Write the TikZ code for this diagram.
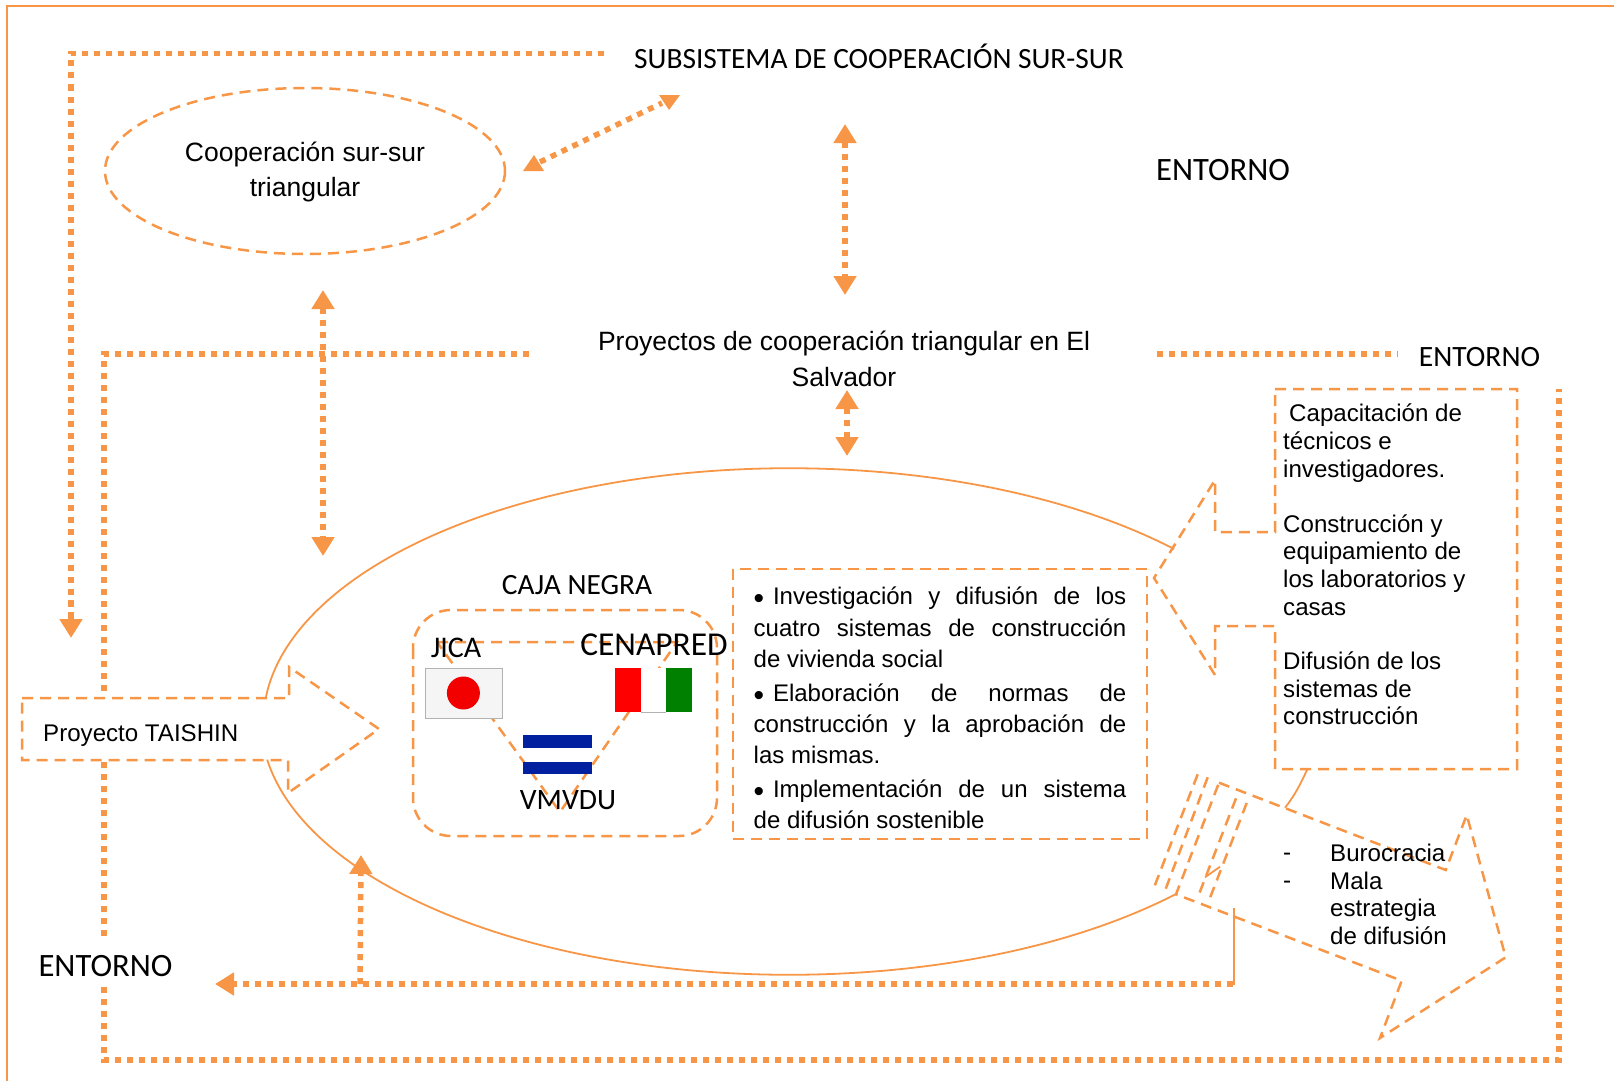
\documentclass[tikz,border=0pt]{standalone}
\usepackage{fontspec}
\setmainfont{Liberation Sans}
\newfontfamily\calibri{Carlito}
\usetikzlibrary{arrows.meta}
\definecolor{naranja}{HTML}{F79646}
\definecolor{azul}{HTML}{00209F}
\newcommand{\vineta}{\smash{\raisebox{-4pt}{\fontsize{30}{30}\selectfont •}}\hspace{8.8pt}}
\tikzset{
	fina/.style={draw=naranja, line width=1.8pt},
	guiones/.style={draw=naranja, line width=2.5pt, dash pattern=on 11pt off 7pt},
	puntos/.style={draw=naranja, line width=5.5pt, dash pattern=on 6pt off 6pt},
	punta/.style={fill=naranja},
	doble/.style={puntos, {Triangle[length=19pt,width=22pt]}-{Triangle[length=19pt,width=22pt]}},
	simple/.style={puntos, -{Triangle[length=19pt,width=22pt]}},
	texto/.style={font=\fontsize{24.1}{27.6}\selectfont, align=left, inner sep=0pt},
	grande/.style={font=\fontsize{26.5}{35.5}\selectfont, align=center, inner sep=0pt},
	cali/.style={font=\calibri\fontsize{#1}{#1}\selectfont, inner sep=0pt}
}

\begin{document}
\begin{tikzpicture}[x=1pt, y=-1pt]
			%%%%% START %%%%%
			\useasboundingbox (0, 0) rectangle (1614, 1081);
			\draw[naranja, line width=2pt] (7, 1081) -- (7, 5.7) -- (1614, 5.7);

			\node[cali=29.4] (subsistema) at (879, 56.5) {SUBSISTEMA DE COOPERACIÓN SUR-SUR};
			\node[cali=32.6] (entornoA) at (1223, 170) {ENTORNO};
			\node[cali=29.5] (entornoB) at (1479.5, 357) {ENTORNO};
			\node[cali=32.6] (entornoC) at (105.5, 966.5) {ENTORNO};

			\node[grande] (proyectos) at (844, 359) {Proyectos de cooperación triangular en El\\Salvador};

			\draw[guiones] (305, 171) ellipse [x radius=200, y radius=83];
			\node[grande] (triangular) at (305, 172) {Cooperación sur-sur\\triangular};

			% lineas del entorno
			\draw[puntos] (604, 53.5) -- (71, 53.5) -- (71, 620);
			\draw[simple] (71, 600) -- (71, 638);
			\draw[puntos] (529, 354) -- (104, 354) -- (104, 696);
			\draw[puntos] (1157, 354) -- (1398, 354);
			\draw[puntos] (104, 762) -- (104, 941);
			\draw[puntos] (104, 987) -- (104, 1060) -- (1559, 1060) -- (1559, 389);

			% flechas
			\coordinate (cooperacionA) at (540, 162);
			\coordinate (cooperacionB) at (662, 103);
			\draw[puntos] (cooperacionA) -- (cooperacionB);
			\fill[punta] (534, 155) -- (544, 171) -- (523, 171) -- cycle;
			\fill[punta] (659, 95) -- (680, 95) -- (669, 110) -- cycle;
			\coordinate (subA) at (845, 124);
			\coordinate (subB) at (845, 295);
			\draw[doble] (subA) -- (subB);
			\coordinate (cajaA) at (847, 390);
			\coordinate (cajaB) at (847, 456);
			\draw[doble] (cajaA) -- (cajaB);
			\coordinate (izqA) at (323, 290);
			\coordinate (izqB) at (323, 556);
			\draw[doble] (izqA) -- (izqB);

			% sistema
			\draw[fina] (1174, 549) arc [start angle=-43, end angle=-174.3, x radius=526, y radius=254];
			\draw[fina] (1176, 894) arc [start angle=42.9, end angle=171.4, x radius=528, y radius=253];

			\draw[guiones] (22, 698) -- (289, 698) -- (289, 667) -- (379, 729) -- (288, 793) -- (288, 760) -- (22, 760) -- cycle;
			\node[texto, anchor=base west] (taishin) at (43, 741) {Proyecto TAISHIN};

			\node[cali=29.4] (cajanegra) at (577, 585) {CAJA NEGRA};
			\draw[guiones, rounded corners=38pt] (413, 610) rectangle (717, 836);
			\draw[guiones] (437, 642) -- (677, 642) -- (560, 812) -- cycle;

			% banderas
			\draw[fill=black!4, draw=black!30] (425.6, 668) rectangle (502, 718);
			\fill[red!95!black] (463.4, 693) circle (16.5);
			\fill[red] (615, 668) rectangle (641, 712);
			\fill[white] (641, 668) rectangle (666, 712);
			\fill[black!50!green] (666, 668) rectangle (692, 712);
			\draw[black!30] (641, 712) -- (666, 712);
			\fill[azul] (523, 735) rectangle (592, 748);
			\fill[azul] (523, 762) rectangle (592, 774);

			\node[cali=30] (jica) at (456, 648) {JICA};
			\node[cali=33.4] (cenapred) at (654, 644.5) {CENAPRED};
			\node[cali=29.6] (vmvdu) at (568, 800) {VMVDU};

			\draw[guiones] (733, 569) rectangle (1147, 839);
			\node[texto, text width=372.6pt, align=justify, font=\fontsize{24}{31.2}\selectfont, anchor=north west] (tareas) at (753.5, 587) {\setlength{\parskip}{2.6pt}\tolerance=9999\emergencystretch=40pt
				\vineta Investigación y difusión de los\linebreak cuatro sistemas de construcción\linebreak de vivienda social\par
				\vineta Elaboración de normas de\linebreak construcción y la aprobación de\linebreak las mismas.\par
				\vineta Implementación de un sistema\linebreak de difusión sostenible};

			% salidas
			\draw[guiones] (1275, 389) -- (1517, 389) -- (1517, 769) -- (1275, 769) -- (1275, 626) -- (1215, 626) -- (1215, 675) -- (1154, 578) -- (1215, 480) -- (1215, 532) -- (1275, 532) -- cycle;
			\node[texto, anchor=north west] (capacitacion) at (1283, 404) {\hspace{6pt}Capacitación de\\técnicos e\\investigadores.\\[27.6pt]Construcción y\\equipamiento de\\los laboratorios y\\casas\\[27pt]Difusión de los\\sistemas de\\construcción};

			% retroalimentacion
			\draw[guiones] (1219, 782.7) -- (1445.7, 870) -- (1466.7, 815) -- (1505.7, 957.3) -- (1380, 1038) -- (1401.7, 980.7) -- (1176, 894.3) -- cycle;
			\draw[guiones] (1197.7, 774.3) -- (1154.3, 886.7);
			\draw[guiones] (1207.7, 777.3) -- (1165, 890.7);
			\draw[guiones] (1236, 798.3) -- (1198.3, 896);
			\draw[guiones] (1246.7, 803) -- (1208, 903);
			\draw[fina] (1307.3, 769.3) .. controls (1300, 785) and (1295, 795) .. (1285, 807.7);
			\draw[fina] (1220, 866.7) -- (1205, 877.3);
			\node[texto, anchor=north west] (guionA) at (1283, 844) {\vphantom{B}-\\-};
			\node[texto, anchor=north west] (barreras) at (1330, 844) {Burocracia\\Mala\\estrategia\\de difusión};

			\draw[fina] (1234, 908) -- (1234, 985);
			\draw[puntos] (1233, 984) -- (225, 984);
			\draw[simple] (235, 984) -- (215, 984);
			\draw[simple] (360, 984) -- (361, 855);

			%%%%% END %%%%%
\end{tikzpicture}
\end{document}
